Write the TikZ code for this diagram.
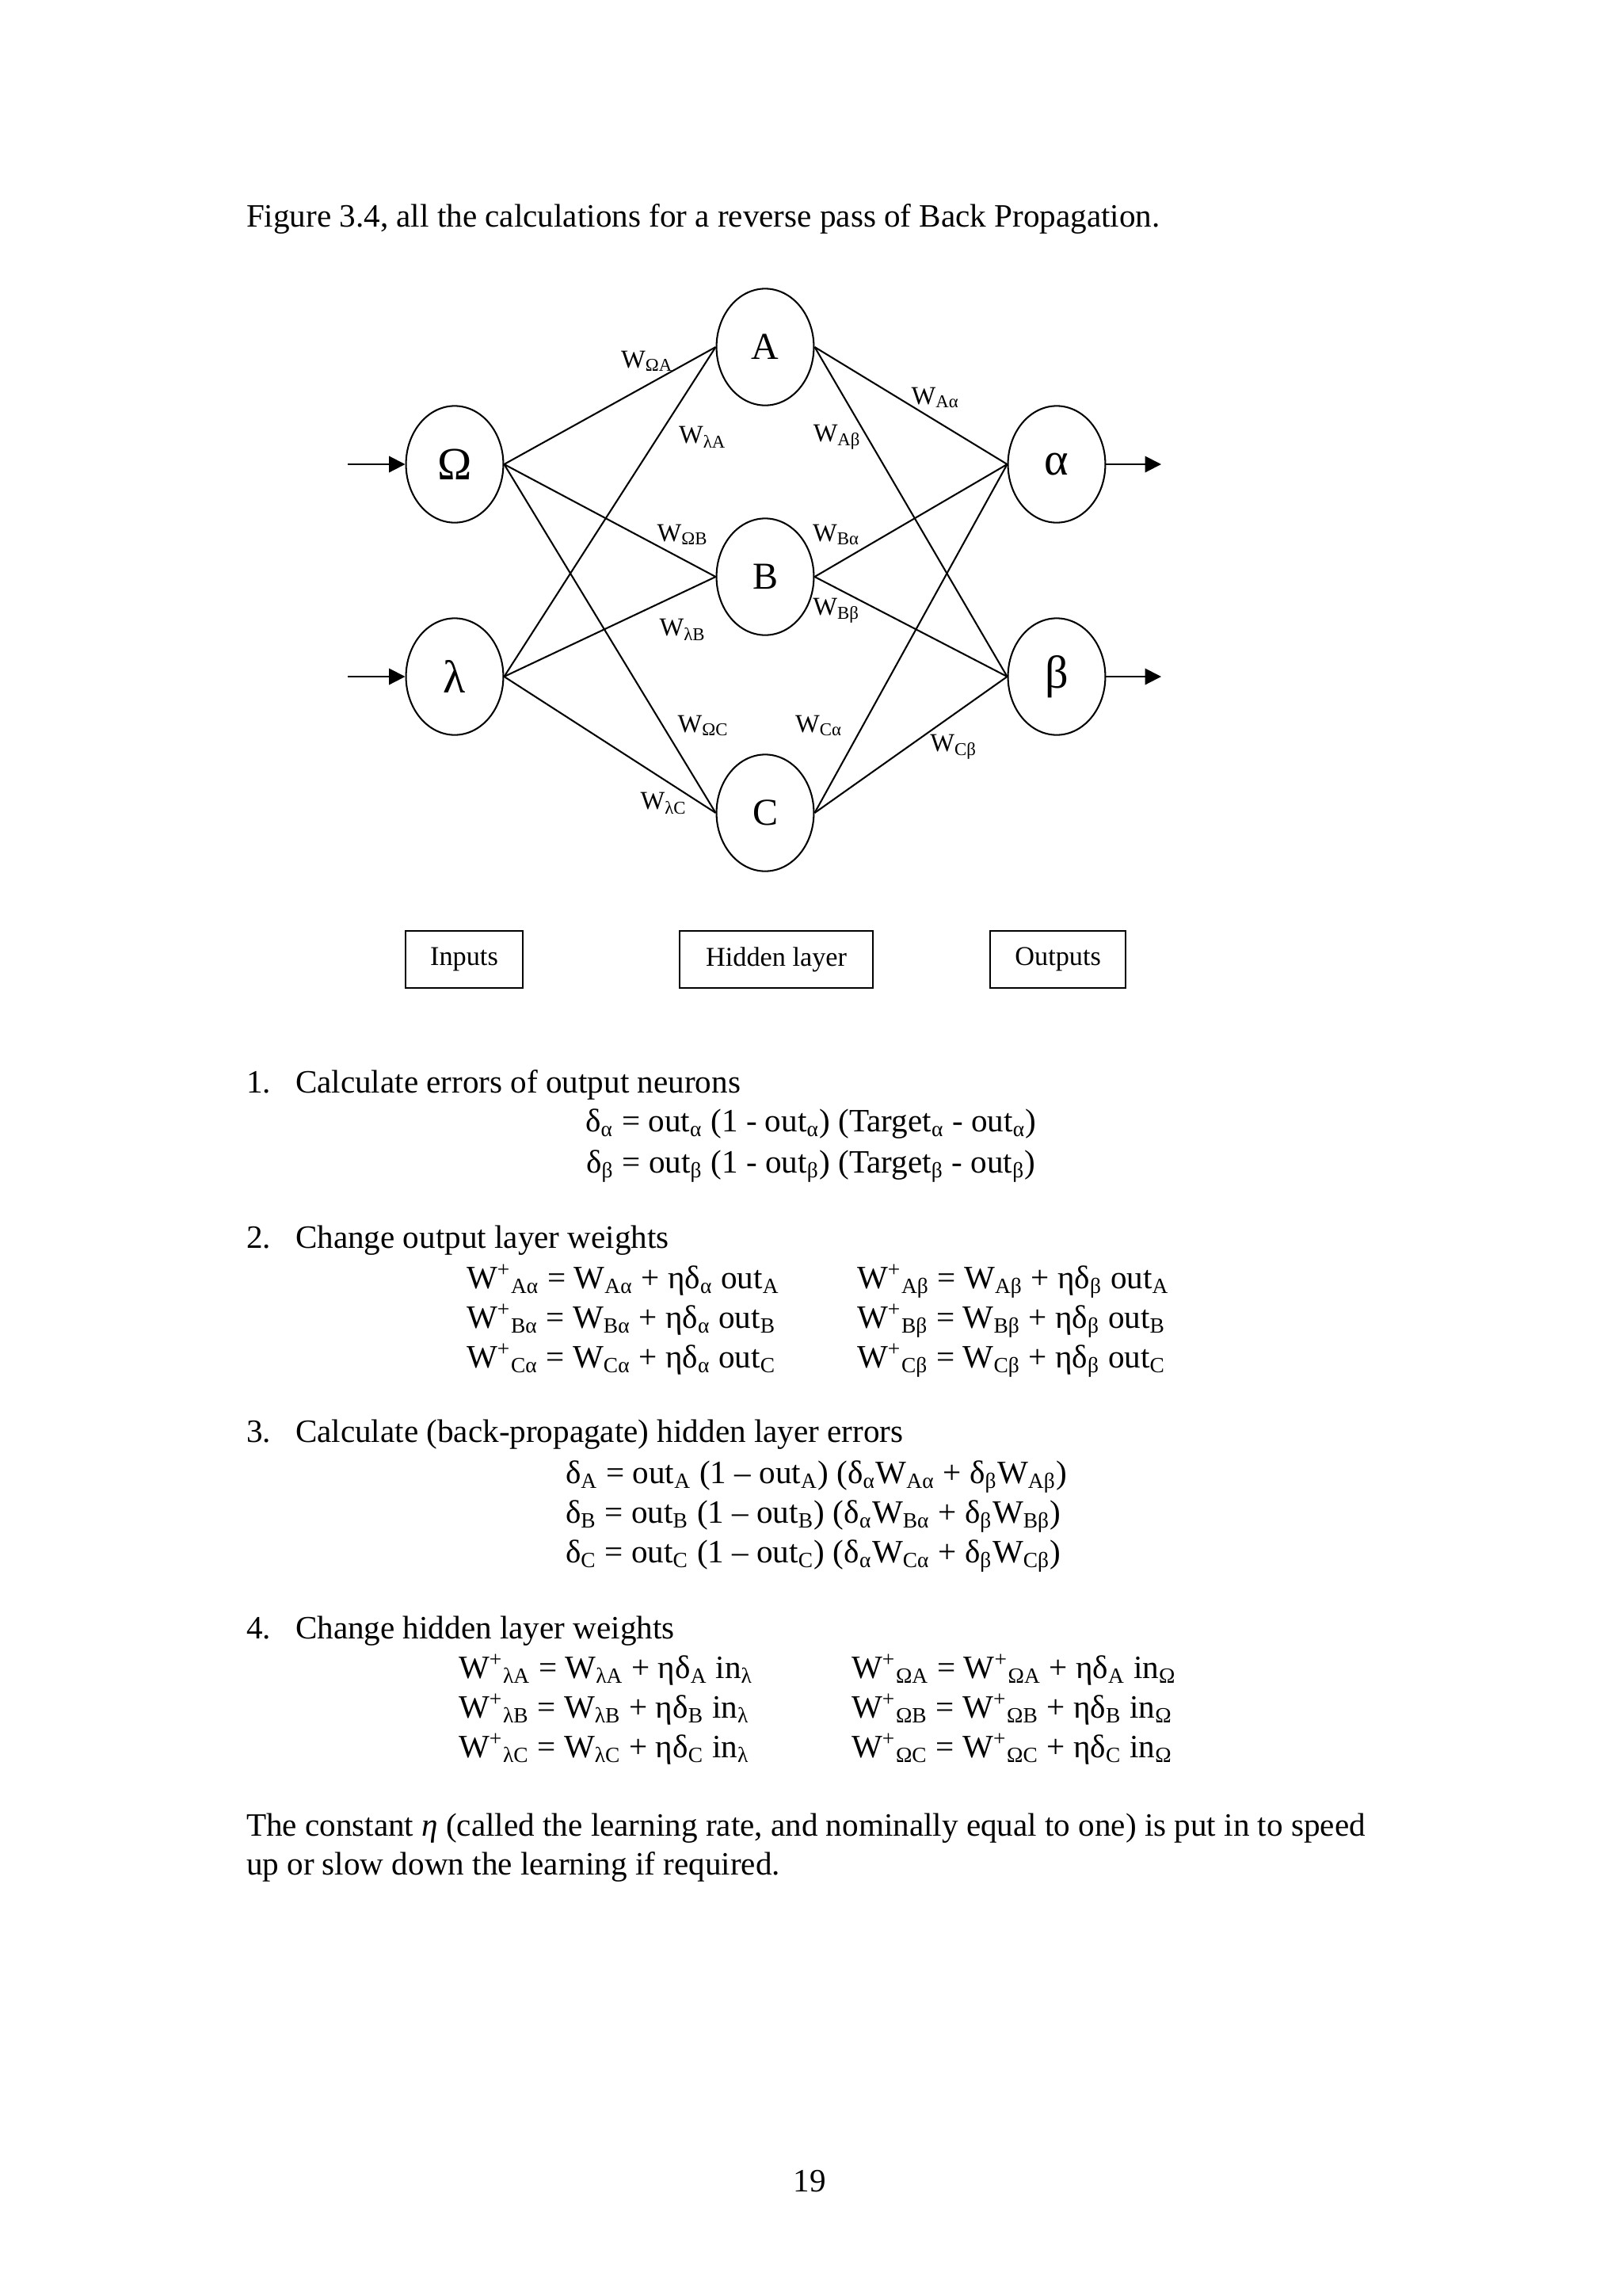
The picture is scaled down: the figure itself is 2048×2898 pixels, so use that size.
\documentclass[tikz,border=0pt]{standalone}
\usepackage{fontspec}
\setmainfont{Liberation Serif}
\usetikzlibrary{arrows.meta,positioning,shapes.geometric}

\newcommand{\sbs}[1]{\textsubscript{#1}}
\newcommand{\Wplus}[1]{W\textsuperscript{+}\textsubscript{#1}}

\tikzset{
  neuron/.style={draw,ellipse,line width=0.6pt,minimum width=12.6mm,minimum height=15.1mm,inner sep=0pt,font=\fontsize{14}{16}\selectfont},
  greek/.style={font=\fontsize{17}{19}\selectfont},
  layerbox/.style={draw,rectangle,line width=0.6pt,minimum height=7.4mm,inner sep=0pt,font=\fontsize{10}{12}\selectfont},
  wlabel/.style={inner sep=0pt,font=\fontsize{9.5}{11}\selectfont},
  body/.style={inner sep=0pt,anchor=base west,font=\fontsize{12}{14}\selectfont},
  flow/.style={line width=0.6pt,-{Triangle[length=2.1mm,width=2.1mm]}},
}

\begin{document}
\begin{tikzpicture}[x=0.1025390625mm,y=-0.1025390625mm,line width=0.6pt]
  \useasboundingbox (0,0) rectangle (2048,2898);

  \node[body] (title) at (310,286) {Figure 3.4, all the calculations for a reverse pass of Back Propagation.};

  % network
  \node[neuron,greek] (om) at (574,586) {Ω};
  \node[neuron,greek] (lam) at (574,854) {λ};
  \node[neuron] (A) at (966,438) {A};
  \node[neuron] (B) at (966,728) {B};
  \node[neuron] (C) at (966,1026) {C};
  \node[neuron,greek] (al) at (1334,586) {α};
  \node[neuron,greek] (be) at (1334,854) {β};

  \coordinate (inom) at (439,586);
  \coordinate (inlam) at (439,854);
  \coordinate (outal) at (1466,586);
  \coordinate (outbe) at (1466,854);
  \draw[flow] (inom)--(om); \draw[flow] (inlam)--(lam);
  \draw[flow] (al)--(outal); \draw[flow] (be)--(outbe);

  \foreach \i in {om,lam}
    \foreach \h in {A,B,C}
      \draw (\i.east)--(\h.west);
  \foreach \h in {A,B,C}
    \foreach \o in {al,be}
      \draw (\h.east)--(\o.west);

  \node[wlabel] (wOA) at (817,456) {W\sbs{ΩA}};
  \node[wlabel] (wlA) at (887,552) {W\sbs{λA}};
  \node[wlabel] (wAb) at (1057,552) {W\sbs{Aβ}};
  \node[wlabel] (wAa) at (1181,502) {W\sbs{Aα}};
  \node[wlabel] (wOB) at (862,675) {W\sbs{ΩB}};
  \node[wlabel] (wBa) at (1056,675) {W\sbs{Bα}};
  \node[wlabel] (wlB) at (862,795) {W\sbs{λB}};
  \node[wlabel] (wBb) at (1056,771) {W\sbs{Bβ}};
  \node[wlabel] (wOC) at (888,916) {W\sbs{ΩC}};
  \node[wlabel] (wCa) at (1034,916) {W\sbs{Cα}};
  \node[wlabel] (wCb) at (1204,943) {W\sbs{Cβ}};
  \node[wlabel] (wlC) at (838,1014) {W\sbs{λC}};

  \node[layerbox,minimum width=15.2mm] (inbox) at (586,1211) {Inputs};
  \node[layerbox,minimum width=25mm,right=20.1mm of inbox] (hidbox) {Hidden layer};
  \node[layerbox,minimum width=17.5mm,right=15mm of hidbox] (outbox) {Outputs};

  % step 1
  \node[body] (n1) at (310,1379) {1.};
  \node[body] (s1) at (372,1379) {Calculate errors of output neurons};
  \node[body,anchor=base] (e1a) at (1024,1428) {δ\sbs{α} = out\sbs{α} (1 - out\sbs{α}) (Target\sbs{α} - out\sbs{α})};
  \node[body,anchor=base] (e1b) at (1024,1480) {δ\sbs{β} = out\sbs{β} (1 - out\sbs{β}) (Target\sbs{β} - out\sbs{β})};

  % step 2
  \node[body] (n2) at (310,1575) {2.};
  \node[body] (s2) at (372,1575) {Change output layer weights};
  \node[body] (e2a) at (588,1626) {\Wplus{Aα} = W\sbs{Aα} + ηδ\sbs{α} out\sbs{A}};
  \node[body] (e2b) at (588,1676) {\Wplus{Bα} = W\sbs{Bα} + ηδ\sbs{α} out\sbs{B}};
  \node[body] (e2c) at (588,1726) {\Wplus{Cα} = W\sbs{Cα} + ηδ\sbs{α} out\sbs{C}};
  \node[body] (e2d) at (1081,1626) {\Wplus{Aβ} = W\sbs{Aβ} + ηδ\sbs{β} out\sbs{A}};
  \node[body] (e2e) at (1081,1676) {\Wplus{Bβ} = W\sbs{Bβ} + ηδ\sbs{β} out\sbs{B}};
  \node[body] (e2f) at (1081,1726) {\Wplus{Cβ} = W\sbs{Cβ} + ηδ\sbs{β} out\sbs{C}};

  % step 3
  \node[body] (n3) at (310,1820) {3.};
  \node[body] (s3) at (372,1820) {Calculate (back-propagate) hidden layer errors};
  \node[body] (e3a) at (713,1872) {δ\sbs{A} = out\sbs{A} (1 – out\sbs{A}) (δ\sbs{α}W\sbs{Aα} + δ\sbs{β}W\sbs{Aβ})};
  \node[body] (e3b) at (713,1922) {δ\sbs{B} = out\sbs{B} (1 – out\sbs{B}) (δ\sbs{α}W\sbs{Bα} + δ\sbs{β}W\sbs{Bβ})};
  \node[body] (e3c) at (713,1972) {δ\sbs{C} = out\sbs{C} (1 – out\sbs{C}) (δ\sbs{α}W\sbs{Cα} + δ\sbs{β}W\sbs{Cβ})};

  % step 4
  \node[body] (n4) at (310,2068) {4.};
  \node[body] (s4) at (372,2068) {Change hidden layer weights};
  \node[body] (e4a) at (578,2118) {\Wplus{λA} = W\sbs{λA} + ηδ\sbs{A} in\sbs{λ}};
  \node[body] (e4b) at (578,2168) {\Wplus{λB} = W\sbs{λB} + ηδ\sbs{B} in\sbs{λ}};
  \node[body] (e4c) at (578,2218) {\Wplus{λC} = W\sbs{λC} + ηδ\sbs{C} in\sbs{λ}};
  \node[body] (e4d) at (1074,2118) {\Wplus{ΩA} = \Wplus{ΩA} + ηδ\sbs{A} in\sbs{Ω}};
  \node[body] (e4e) at (1074,2168) {\Wplus{ΩB} = \Wplus{ΩB} + ηδ\sbs{B} in\sbs{Ω}};
  \node[body] (e4f) at (1074,2218) {\Wplus{ΩC} = \Wplus{ΩC} + ηδ\sbs{C} in\sbs{Ω}};

  \node[body] (p1) at (310,2317) {The constant {\itshape η} (called the learning rate, and nominally equal to one) is put in to speed};
  \node[body] (p2) at (310,2366) {up or slow down the learning if required.};

  \node[body,anchor=base] (pg) at (1022,2766) {19};
\end{tikzpicture}
\end{document}
